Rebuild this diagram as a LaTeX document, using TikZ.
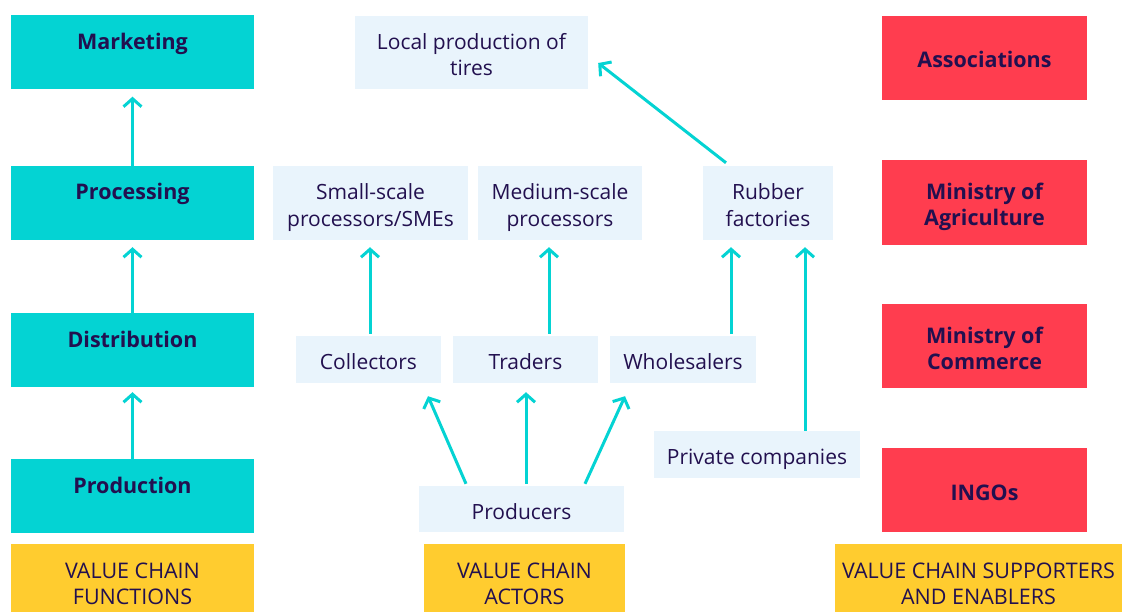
\documentclass[tikz,border=0pt]{standalone}
\usepackage{fontspec}
\setmainfont{Open Sans}
\usetikzlibrary{arrows.meta}
\definecolor{vcteal}{HTML}{04D3D3}
\definecolor{vcred}{HTML}{FF3D4F}
\definecolor{vcyellow}{HTML}{FFCC2F}
\definecolor{vcblue}{HTML}{E9F4FC}
\definecolor{vctext}{HTML}{22104F}
\begin{document}
\begin{tikzpicture}[x=1pt,y=-1pt,
  box/.style={rectangle, inner sep=0pt, align=center, text=vctext,
    text height=25.5pt, text depth=5.5pt, font=\fontsize{21}{26}\selectfont},
  two/.style={text height=51.5pt},
  func/.style={box, two, fill=vcteal, font=\fontsize{21.5}{26}\selectfont\bfseries,
    minimum width=243pt, minimum height=74pt},
  actor/.style={box, fill=vcblue},
  enabler/.style={box, fill=vcred, font=\fontsize{21.5}{26}\selectfont\bfseries,
    minimum width=205pt, minimum height=84pt},
  legend/.style={box, text height=57.5pt, fill=vcyellow, minimum height=68pt,
    font=\fontsize{21.5}{26}\selectfont},
  flow/.style={draw=vcteal, line width=3pt, -{Straight Barb[length=8pt,width=18pt]}}]
\useasboundingbox (0,0) rectangle (1123,612);
% value chain functions
\node[func] (mark) at (132.5,52.5) {Marketing\\\mbox{}};
\node[func] (proc) at (132.5,203) {Processing\\\mbox{}};
\node[func] (dist) at (132.5,350) {Distribution\\\mbox{}};
\node[func] (prod) at (132.5,496) {Production\\\mbox{}};
% actors
\node[actor, two, minimum width=233pt, minimum height=73pt] (local) at (471.5,52.5) {Local production of\\tires};
\node[actor, two, minimum width=195pt, minimum height=74pt] (small) at (370.5,203) {Small-scale\\processors/SMEs};
\node[actor, two, minimum width=164pt, minimum height=74pt] (medium) at (560,203) {Medium-scale\\processors};
\node[actor, two, minimum width=130pt, minimum height=74pt] (rubber) at (768,203) {Rubber\\factories};
\node[actor, minimum width=145pt, minimum height=47pt] (coll) at (368.5,359.5) {Collectors};
\node[actor, minimum width=145pt, minimum height=47pt] (trad) at (525.5,359.5) {Traders};
\node[actor, minimum width=146pt, minimum height=47pt] (whole) at (683,359.5) {Wholesalers};
\node[actor, minimum width=206pt, minimum height=47pt] (priv) at (757,454.5) {Private companies};
\node[actor, minimum width=205pt, minimum height=46pt] (producers) at (521.5,509) {Producers};
% supporters and enablers
\node[enabler] (assoc) at (984.5,58) {Associations};
\node[enabler, two, minimum height=85pt] (moa) at (984.5,202.5) {Ministry of\\Agriculture};
\node[enabler, two] (moc) at (984.5,346) {Ministry of\\Commerce};
\node[enabler] (ingo) at (984.5,490) {INGOs};
% legend
\node[legend, minimum width=243pt] (lfunc) at (132.5,578) {VALUE CHAIN\\FUNCTIONS};
\node[legend, minimum width=201pt] (lact) at (524.5,578) {VALUE CHAIN\\ACTORS};
\node[legend, minimum width=287pt] (lsup) at (978.5,578) {VALUE CHAIN SUPPORTERS\\AND ENABLERS};
% arrows
\draw[flow] (proc.north) -- ([yshift=-7pt]mark.south);
\draw[flow] (dist.north) -- ([yshift=-7pt]proc.south);
\draw[flow] (prod.north) -- ([yshift=-5pt]dist.south);
\draw[flow] ([xshift=1.5pt,yshift=2pt]coll.north) -- ([xshift=1.5pt,yshift=-7pt]coll.north |- small.south);
\draw[flow] ([xshift=23.5pt,yshift=2pt]trad.north) -- ([xshift=23.5pt,yshift=-7pt]trad.north |- medium.south);
\draw[flow] ([xshift=48pt,yshift=2pt]whole.north) -- ([xshift=48pt,yshift=-7pt]whole.north |- rubber.south);
\draw[flow] ([xshift=48pt]priv.north) -- ([xshift=48pt,yshift=-7pt]priv.north |- rubber.south);
\draw[flow] ([xshift=-42pt,yshift=3pt]rubber.north) -- ([xshift=10pt,yshift=-10.5pt]local.east);
\draw[flow] ([xshift=-55.5pt,yshift=2pt]producers.north) -- ([xshift=59.5pt,yshift=-13pt]coll.south);
\draw[flow] ([xshift=4.5pt,yshift=2pt]producers.north) -- ([xshift=0.5pt,yshift=-9pt]trad.south);
\draw[flow] ([xshift=63.5pt,yshift=2pt]producers.north) -- ([xshift=-58pt,yshift=-13pt]whole.south);
\end{tikzpicture}
\end{document}
